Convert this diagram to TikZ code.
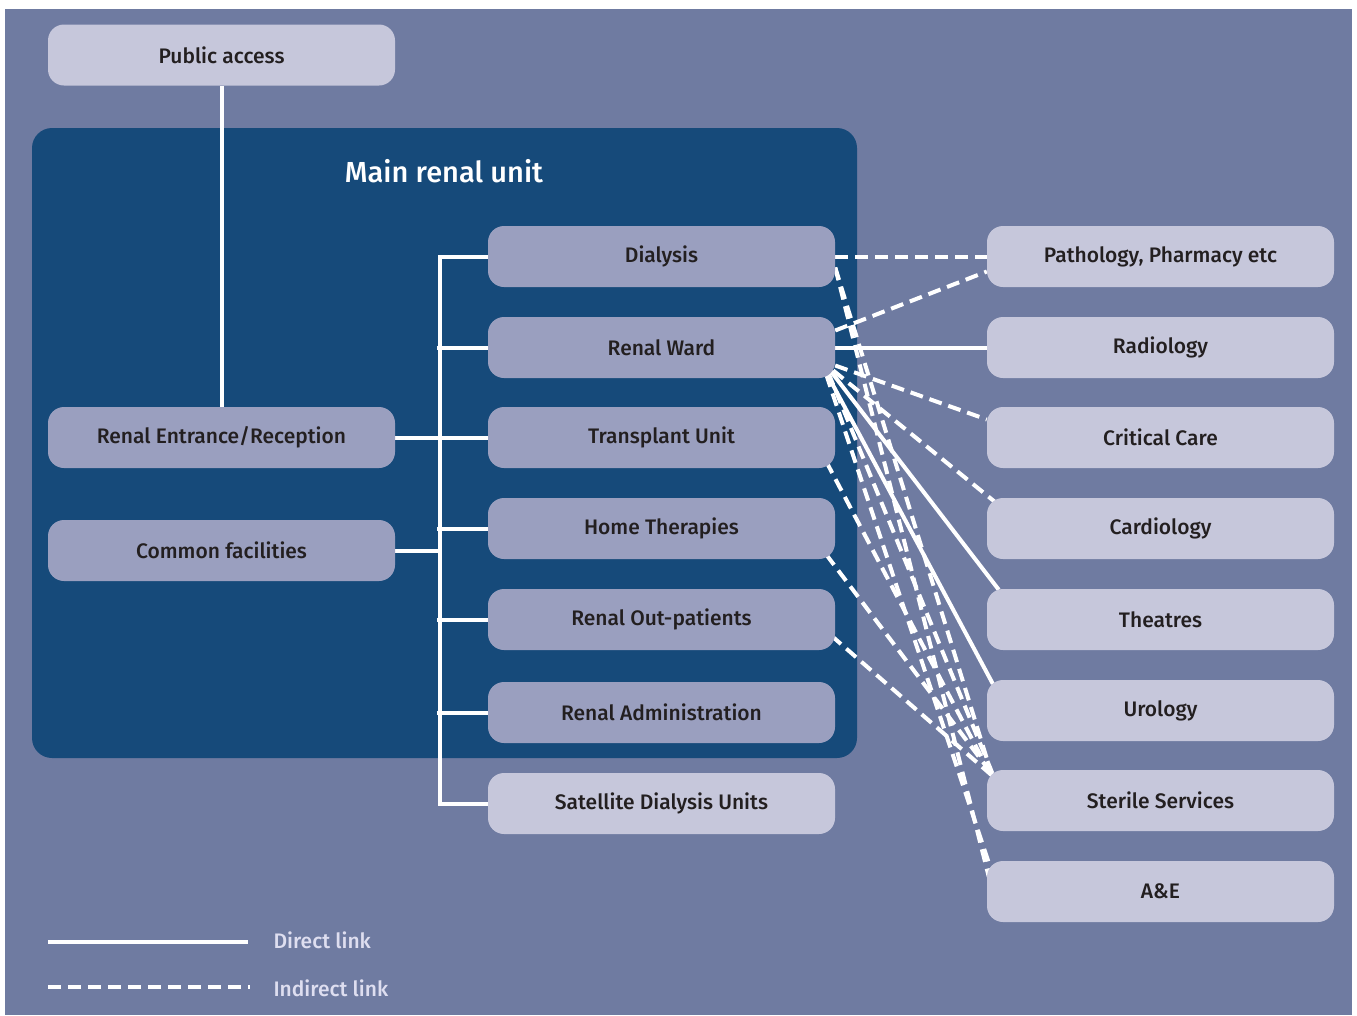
\documentclass[tikz,border=0pt]{standalone}
\usepackage{fontspec}
\setmainfont{Fira Sans}[BoldFont={Fira Sans Medium}]
\usetikzlibrary{calc}
\definecolor{bgc}{RGB}{111,123,161}
\definecolor{unitc}{RGB}{22,74,122}
\definecolor{inc}{RGB}{154,159,191}
\definecolor{outc}{RGB}{198,199,219}
\definecolor{txt}{RGB}{35,31,32}
\definecolor{legc}{RGB}{222,222,240}
\pgfdeclarelayer{bg}
\pgfdeclarelayer{lines}
\pgfsetlayers{bg,lines,main}
\tikzset{
  box/.style={rectangle, rounded corners=16pt, minimum width=347pt, minimum height=61pt,
    inner sep=0pt, text=txt, font=\fontsize{21}{24}\selectfont\bfseries},
  inbox/.style={box, fill=inc},
  outbox/.style={box, fill=outc},
  direct/.style={draw=white, line width=4pt},
  indirect/.style={draw=white, line width=4pt, dash pattern=on 13pt off 7pt},
  legtext/.style={anchor=west, text=legc, font=\fontsize{21}{24}\selectfont\bfseries},
}
\begin{document}
\begin{tikzpicture}[x=1pt,y=-1pt]
\useasboundingbox (0,0) rectangle (1357,1015);
\begin{pgfonlayer}{bg}
  \fill[white] (0,0) rectangle (1357,1015);
  \fill[bgc] (5,9) rectangle (1352,1015);
  \fill[unitc, rounded corners=20pt] (32,128) rectangle (857,758);
\end{pgfonlayer}
\node[white, font=\fontsize{29}{33}\selectfont\bfseries] (title) at (444,171) {Main renal unit};
% left column
\node[outbox] (pub) at (221.5,55) {Public access};
\node[inbox] (entr) at (221.5,437.5) {Renal Entrance/Reception};
\node[inbox] (comm) at (221.5,550.5) {Common facilities};
% middle column
\node[inbox] (dial) at (661.5,256.5) {Dialysis};
\node[inbox] (ward) at (661.5,347.5) {Renal Ward};
\node[inbox] (trans) at (661.5,437.5) {Transplant Unit};
\node[inbox] (home) at (661.5,528.5) {Home Therapies};
\node[inbox] (outp) at (661.5,619.5) {Renal Out-patients};
\node[inbox] (admin) at (661.5,712.5) {Renal Administration};
\node[outbox] (sat) at (661.5,803.5) {Satellite Dialysis Units};
% right column
\node[outbox] (path) at (1160.5,256.5) {Pathology, Pharmacy etc};
\node[outbox] (radio) at (1160.5,347.5) {Radiology};
\node[outbox] (crit) at (1160.5,437.5) {Critical Care};
\node[outbox] (card) at (1160.5,528.5) {Cardiology};
\node[outbox] (theat) at (1160.5,619.5) {Theatres};
\node[outbox] (uro) at (1160.5,710.5) {Urology};
\node[outbox] (ster) at (1160.5,800.5) {Sterile Services};
\node[outbox] (ae) at (1160.5,891.5) {A\&E};
% legend
\coordinate (l1a) at (48,942);
\coordinate (l1b) at (248,942);
\coordinate (l2a) at (48,987);
\coordinate (l2b) at (250,987);
\node[legtext] (ldir) at (270,940) {Direct link};
\node[legtext] (lind) at (270,988) {Indirect link};
\coordinate (trunktop) at (440,256.5);
\coordinate (trunkbot) at (440,803.5);
\begin{pgfonlayer}{lines}
  \draw[direct] (l1a) -- (l1b);
  \draw[indirect] (l2a) -- (l2b);
  % tree
  \draw[direct] (pub.south) -- (entr.north);
  \draw[direct, line cap=rect] (dial.west) -- (trunktop) -- (trunkbot) -- (sat.west);
  \draw[direct] ($(ward.west)+(-51,0)$) -- (ward.west);
  \draw[direct] (entr.east) -- (trans.west);
  \draw[direct] ($(home.west)+(-51,0)$) -- (home.west);
  \draw[direct] ($(outp.west)+(-51,0)$) -- (outp.west);
  \draw[direct] ($(admin.west)+(-51,0)$) -- (admin.west);
  \draw[direct] (comm.east) -- ($(comm.east)+(45,0)$);
  % direct links
  \draw[direct] (ward.east) -- (radio.west);
  \draw[direct] ($(ward.east)+(-5,23)$) -- ($(theat.north west)+(12,1)$);
  \draw[direct] ($(ward.east)+(-9,25)$) -- ($(uro.north west)+(6,4)$);
  % indirect links
  \draw[indirect] (dial.east) -- (path.west);
  \draw[indirect] ($(ward.east)+(0,-17)$) -- ($(path.west)+(0,15)$);
  \draw[indirect] ($(ward.east)+(0,18)$) -- ($(crit.west)+(0,-18)$);
  \draw[indirect] ($(ward.east)+(-2,23)$) -- ($(card.north west)+(8,4)$);
  \draw[indirect] ($(dial.east)+(0,11)$) -- ($(ster.north west)+(5,5)$);
  \draw[indirect] ($(dial.east)+(0,11)$) -- ($(ae.north west)+(2,16)$);
  \draw[indirect] ($(ward.east)+(-7,25)$) -- ($(ster.north west)+(7,7)$);
  \draw[indirect] ($(ward.east)+(-9,27)$) -- ($(ae.north west)+(4,8)$);
  \draw[indirect] ($(trans.east)+(-9,24)$) -- ($(ster.north west)+(4,5)$);
  \draw[indirect] ($(home.east)+(-9,26)$) -- ($(ster.north west)+(8,8)$);
  \draw[indirect] ($(outp.east)+(-4,16)$) -- ($(ster.north west)+(9,9)$);
\end{pgfonlayer}
\end{tikzpicture}
\end{document}
